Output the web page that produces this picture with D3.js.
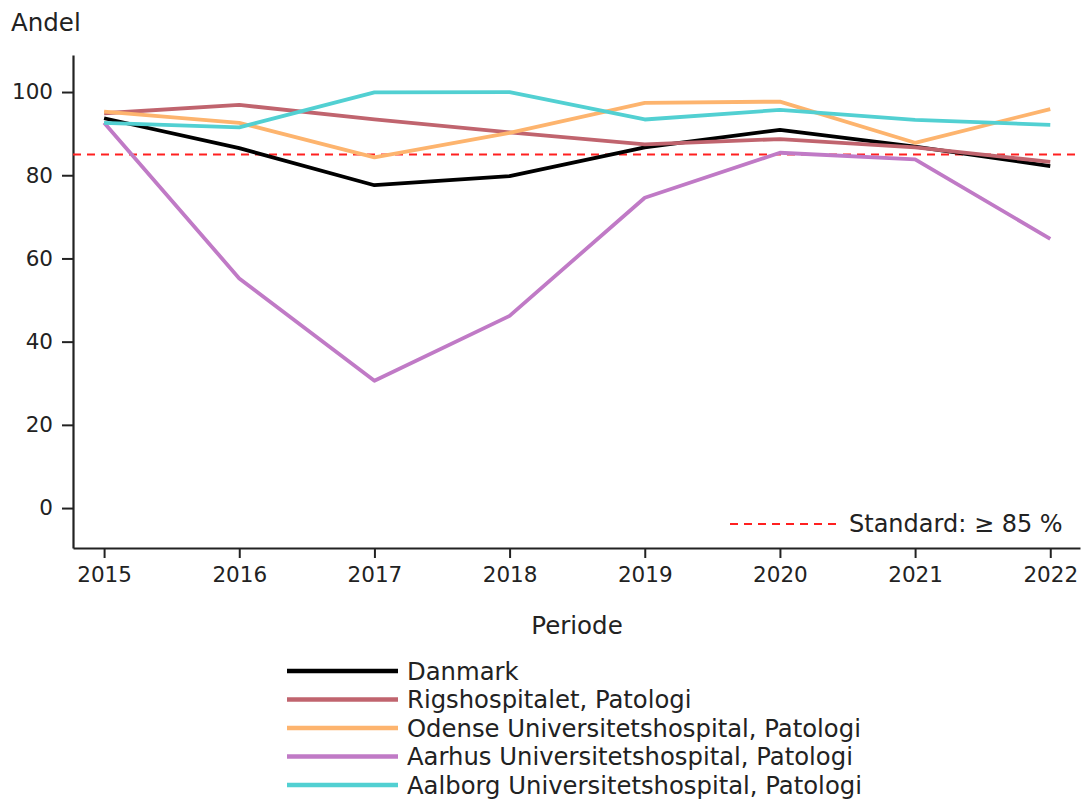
<!DOCTYPE html>
<html>
<head>
<meta charset="utf-8">
<script src="https://cdn.jsdelivr.net/npm/d3@7"></script>
<style>
  body { margin: 0; background: #fff; }
  svg { font-family: "DejaVu Sans", sans-serif; }
</style>
</head>
<body>
<svg width="1081" height="800"></svg>
<script>
// data
var years = [2015, 2016, 2017, 2018, 2019, 2020, 2021, 2022];
var seriesNames = ["Danmark", "Rigshospitalet, Patologi", "Odense Universitetshospital, Patologi",
    "Aarhus Universitetshospital, Patologi", "Aalborg Universitetshospital, Patologi"];
var danmark = [93.7, 86.5, 77.6, 79.8, 86.7, 90.9, 86.9, 82.2];
var rigs = [94.9, 96.9, 93.4, 90.3, 87.4, 88.7, 86.7, 83.2];
var odense = [95.3, 92.6, 84.3, 90.2, 97.4, 97.7, 87.8, 95.9];
var aarhus = [92.6, 55.2, 30.6, 46.2, 74.6, 85.4, 83.8, 64.7];
var aalborg = [92.6, 91.5, 99.9, 100, 93.4, 95.7, 93.3, 92.1];
var yTicks = [0, 20, 40, 60, 80, 100];
var standard = 85;

var colors = ["#000000", "#c0646e", "#fdb46e", "#c07ac6", "#52d0d2"];
var allSeries = [danmark, rigs, odense, aarhus, aalborg];

var svg = d3.select("svg"),
    margin = { top: 55, right: 1, bottom: 252, left: 73 },
    width = +svg.attr("width") - margin.left - margin.right,
    height = +svg.attr("height") - margin.top - margin.bottom,
    g = svg.append("g").attr("transform", "translate(" + margin.left + "," + margin.top + ")");

var x = d3.scaleLinear()
    .domain([2014.77, 2022.22])
    .range([0, width]);

var y = d3.scaleLinear()
    .domain([-9.6, 108.9])
    .range([height, 0]);

// axes
var axisX = g.append("g")
    .attr("transform", "translate(0," + height + ")")
    .call(d3.axisBottom(x).tickValues(years).tickFormat(d3.format("d")).tickSize(10).tickPadding(9).tickSizeOuter(0));
var axisY = g.append("g")
    .call(d3.axisLeft(y).tickValues(yTicks).tickSize(11).tickPadding(9).tickSizeOuter(0));

[axisX, axisY].forEach(function (a) {
    a.select(".domain").attr("stroke", "#222").attr("stroke-width", 2.2);
    a.selectAll(".tick line").attr("stroke", "#222").attr("stroke-width", 2);
    a.selectAll(".tick text").attr("font-size", 21.5).attr("fill", "#222")
        .attr("font-family", "DejaVu Sans");
});

// standard line
g.append("line")
    .attr("x1", 0).attr("x2", width)
    .attr("y1", y(standard)).attr("y2", y(standard))
    .attr("stroke", "#ff2020")
    .attr("stroke-width", 2)
    .attr("stroke-dasharray", "8,6");

// series lines
var line = d3.line()
    .x(function (d, i) { return x(years[i]); })
    .y(function (d) { return y(d); });

g.append("g").attr("class", "lines")
    .selectAll("path")
    .data(allSeries)
    .enter().append("path")
    .attr("fill", "none")
    .attr("stroke", function (d, i) { return colors[i]; })
    .attr("stroke-width", 3.8)
    .attr("stroke-linejoin", "round")
    .attr("d", line);

// axis titles
svg.append("text")
    .attr("x", 11).attr("y", 31)
    .attr("font-size", 24.5).attr("fill", "#222")
    .text("Andel");

svg.append("text")
    .attr("x", 577).attr("y", 634)
    .attr("text-anchor", "middle")
    .attr("font-size", 24.5).attr("fill", "#222")
    .text("Periode");

// standard legend
var std = svg.append("g").attr("transform", "translate(730,524)");
std.append("line")
    .attr("x1", 0).attr("x2", 106)
    .attr("stroke", "#ff2020").attr("stroke-width", 2)
    .attr("stroke-dasharray", "8,6");
std.append("text")
    .attr("x", 119).attr("dy", "0.35em")
    .attr("font-size", 24).attr("fill", "#222")
    .text("Standard: \u2265 85 %");

// series legend
var legend = svg.append("g").attr("class", "legends")
    .selectAll("g")
    .data(seriesNames)
    .enter().append("g")
    .attr("transform", function (d, i) { return "translate(287," + (671 + i * 28.5) + ")"; });

legend.append("line")
    .attr("x1", 0).attr("x2", 111)
    .attr("stroke", function (d, i) { return colors[i]; })
    .attr("stroke-width", 4.5);

legend.append("text")
    .attr("x", 120).attr("dy", "0.35em")
    .attr("font-size", 24.3).attr("fill", "#222")
    .text(function (d) { return d; });
</script>
</body>
</html>
